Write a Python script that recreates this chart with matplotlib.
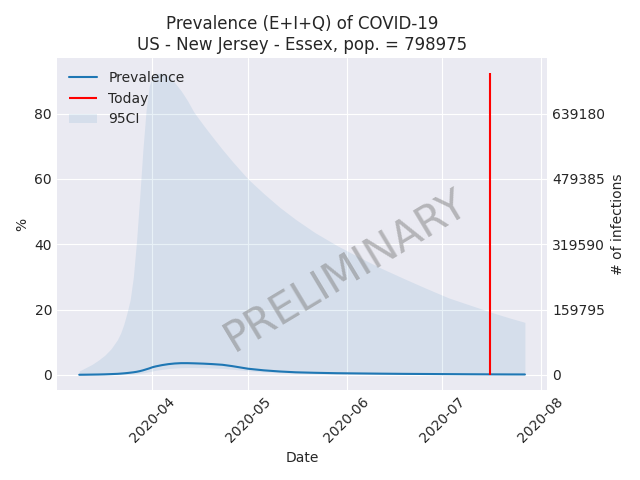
import matplotlib
matplotlib.use("Agg")
import matplotlib.pyplot as plt
import numpy as np
import pandas as pd
from matplotlib.ticker import FixedLocator, FuncFormatter

# values (percent of population)
POPULATION = 798975
TODAY = "2020-07-16"
PCT_TICKS = [0, 20, 40, 60, 80]

dates = [
    "2020-03-09", "2020-03-11", "2020-03-13", "2020-03-15", "2020-03-17",
    "2020-03-19", "2020-03-21", "2020-03-22", "2020-03-23", "2020-03-24",
    "2020-03-25", "2020-03-26", "2020-03-27", "2020-03-28", "2020-03-29",
    "2020-03-30", "2020-03-31", "2020-04-01", "2020-04-02", "2020-04-04",
    "2020-04-06", "2020-04-08", "2020-04-10", "2020-04-12", "2020-04-14",
    "2020-04-17", "2020-04-20", "2020-04-23", "2020-04-26", "2020-05-01",
    "2020-05-06", "2020-05-11", "2020-05-16", "2020-05-22", "2020-05-29",
    "2020-06-05", "2020-06-12", "2020-06-19", "2020-06-26", "2020-07-03",
    "2020-07-10", "2020-07-17", "2020-07-22", "2020-07-27",
]
prevalence = [
    0.05, 0.07, 0.1, 0.13, 0.18,
    0.25, 0.33, 0.4, 0.48, 0.57,
    0.68, 0.8, 0.95, 1.15, 1.4,
    1.7, 2.0, 2.35, 2.6, 3.0,
    3.3, 3.5, 3.6, 3.6, 3.55,
    3.45, 3.3, 3.1, 2.7, 1.9,
    1.4, 1.05, 0.8, 0.65, 0.52,
    0.45, 0.38, 0.32, 0.28, 0.24,
    0.2, 0.17, 0.15, 0.14,
]
ci_low = [
    0.0, 0.0, 0.01, 0.02, 0.03,
    0.05, 0.08, 0.1, 0.13, 0.17,
    0.22, 0.28, 0.36, 0.46, 0.6,
    0.78, 1.0, 1.2, 1.4, 1.7,
    1.95, 2.1, 2.2, 2.25, 2.25,
    2.2, 2.1, 2.0, 1.75, 1.25,
    0.9, 0.65, 0.5, 0.4, 0.32,
    0.27, 0.22, 0.18, 0.15, 0.13,
    0.11, 0.09, 0.08, 0.07,
]
ci_high = [
    1.2, 2.2, 3.2, 4.5, 6.0,
    8.0, 10.8, 12.8, 15.5, 19.0,
    23.0, 30.0, 41.0, 54.5, 69.0,
    81.0, 88.5, 91.3, 92.3, 92.4,
    91.5, 89.5, 87.0, 84.0, 80.5,
    76.5, 72.7, 69.0, 65.5, 60.0,
    55.5, 51.3, 47.6, 43.6, 39.6,
    36.0, 32.6, 29.5, 26.5, 23.6,
    21.3, 19.0, 17.5, 16.1,
]

plt.style.use("seaborn-v0_8-darkgrid")
plt.rcParams["font.family"] = ["DejaVu Sans"]

x = pd.to_datetime(dates)
fig, ax = plt.subplots(figsize=(6.4, 4.8), dpi=100)
ax.plot(x, prevalence, color="C0", label="Prevalence")
ax.vlines(pd.to_datetime(TODAY), 0, max(ci_high), color="red",
          linewidth=1.5, label="Today")
ax.fill_between(x, ci_low, ci_high, color="C0", alpha=0.1, linewidth=0,
                label="95CI")
ax.legend(loc="upper left")
ax.set_title("Prevalence (E+I+Q) of COVID-19\n"
             f"US - New Jersey - Essex, pop. = {POPULATION}")
ax.set_xlabel("Date")
ax.set_ylabel("%")
ax.set_yticks(PCT_TICKS)
plt.setp(ax.get_xticklabels(), rotation=45)
ax.text(0.59, 0.36, "PRELIMINARY", transform=ax.transAxes, fontsize=30,
        color="gray", alpha=0.5, rotation=31, ha="center", va="center")

ax2 = ax.twinx()
ax2.grid(False)
lo, hi = ax.get_ylim()
ax2.set_ylim(lo * POPULATION / 100, hi * POPULATION / 100)
ax2.yaxis.set_major_locator(
    FixedLocator([v * POPULATION / 100 for v in PCT_TICKS]))
ax2.yaxis.set_major_formatter(FuncFormatter(lambda v, _: f"{int(round(v))}"))
ax2.set_ylabel("# of infections")

fig.subplots_adjust(left=0.089, right=0.855, top=0.879, bottom=0.1875)
fig.savefig("out.png", dpi=100)
